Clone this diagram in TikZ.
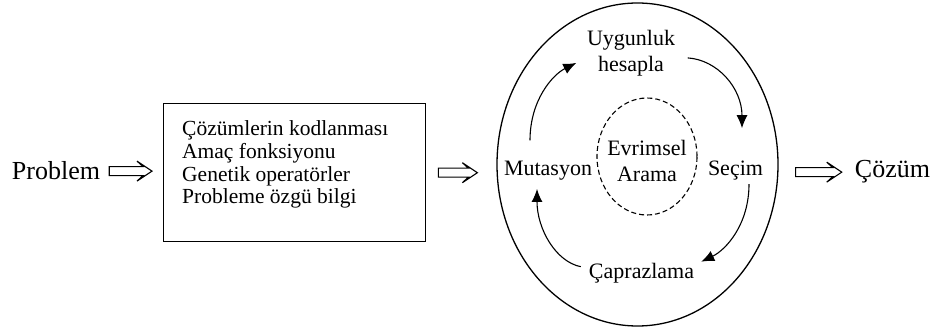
\documentclass[tikz,border=0pt]{standalone}
\usepackage{fontspec}
\setmainfont{Liberation Serif}
\usetikzlibrary{shapes.geometric,arrows.meta,calc}
\begin{document}
\begin{tikzpicture}[x=1pt,y=-1pt,
  lbl/.style={inner sep=0pt, align=center, font=\fontsize{22}{26}\selectfont},
  big/.style={inner sep=0pt, font=\fontsize{26}{30}\selectfont},
  cyc/.style={line width=1.1pt, -{Latex[length=13pt,width=11pt]}},
  hollow/.style={line width=1.1pt, fill=white, line join=miter,
    to path={let \p1=(\tikztostart), \p2=(\tikztotarget) in
      (\x1,{\y1+4.5pt}) -- ({\x2-9pt},{\y1+4.5pt}) -- ({\x2-15pt},{\y1+10pt})
      -- (\x2,\y1) -- ({\x2-15pt},{\y1-10pt}) -- ({\x2-9pt},{\y1-4.5pt})
      -- (\x1,{\y1-4.5pt}) -- cycle}}
]
\useasboundingbox (0,0) rectangle (940,331);

% input and output
\node[big, anchor=base] (prob) at (56,180) {Problem};
\node[big, anchor=base] (coz) at (892.5,178) {Çözüm};

% design choices box
\node[draw, line width=1.4pt, minimum width=262pt, minimum height=138pt,
      inner sep=0pt, anchor=north west] (box) at (163,103) {};
\node[anchor=north west, inner sep=0pt, align=left,
      font=\fontsize{21.5}{22.7}\selectfont] (list) at (182,120.5)
  {Çözümlerin kodlanması\\Amaç fonksiyonu\\Genetik operatörler\\Probleme özgü bilgi};

% evolutionary cycle
\node[ellipse, draw, line width=1.3pt, minimum width=281pt, minimum height=323pt,
      inner sep=0pt] (outer) at (637.5,164.5) {};
\node[ellipse, draw, dash pattern=on 5pt off 3pt, line width=1.1pt,
      minimum width=100pt, minimum height=117pt, inner sep=0pt] (inner) at (647,156.5) {};
\node[lbl] (evr) at (647,160.5) {Evrimsel\\Arama};
\node[lbl] (ug) at (631,52.9) {Uygunluk\\hesapla};
\node[lbl, anchor=base] (mut) at (548,176) {Mutasyon};
\node[lbl, anchor=base] (sec) at (735.5,176) {Seçim};
\node[lbl, anchor=base] (cap) at (641.5,278) {Çaprazlama};

% cycle arrows
\draw[cyc] ([xshift=-18pt,yshift=21pt]mut.north)
  .. controls +(0,-40) and +(-24,12) .. ([xshift=-10.5pt,yshift=-10pt]ug.west);
\draw[cyc] ([xshift=12.5pt,yshift=-5pt]ug.east)
  .. controls +(30,2) and +(0,-40) .. ([xshift=6.5pt,yshift=33pt]sec.north);
\draw[cyc] ([xshift=13.5pt,yshift=-3.3pt]sec.south)
  .. controls +(0,40) and +(25,-12) .. ([xshift=7pt,yshift=11pt]cap.east);
\draw[cyc] ([xshift=-8pt,yshift=6pt]cap.west)
  .. controls +(-25,-5) and +(0,40) .. ([xshift=-11pt,yshift=-8pt]mut.south);

% flow arrows
\draw[hollow] ([xshift=9pt]prob.east) to ([xshift=-11pt]box.west);
\draw[hollow] ([xshift=12pt]box.east) to ([xshift=-19pt]outer.west);
\draw[hollow] ([xshift=17pt]outer.east |- coz.west) to ([xshift=-13pt]coz.west);
\end{tikzpicture}
\end{document}
